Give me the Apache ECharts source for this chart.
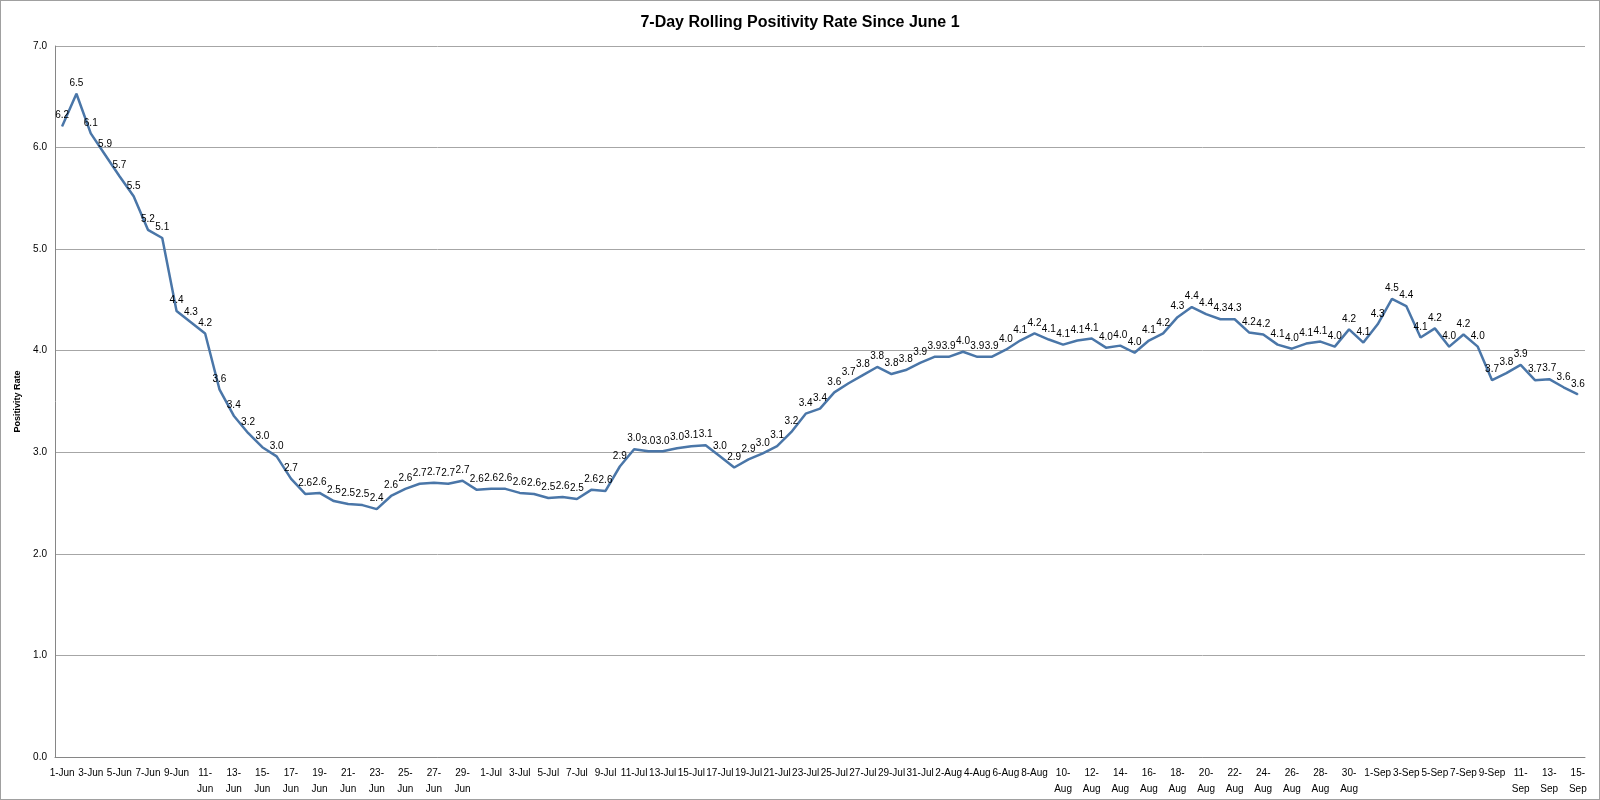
<!DOCTYPE html>
<html><head><meta charset="utf-8">
<script src="https://cdn.jsdelivr.net/npm/echarts@6/dist/echarts.min.js"></script>
<style>html,body{margin:0;padding:0;background:#fff}#c{width:1600px;height:800px;box-sizing:border-box;border:1px solid #a0a0a0}</style>
</head><body><div id="c"></div>
<script>
const months = ['Jun','Jul','Aug','Sep'];
const monthDays = [30,31,31,15];
const rates = [
6.21,6.53,6.14,5.93,5.72,5.52,5.19,5.11,4.39,4.28,
4.17,3.62,3.36,3.19,3.05,2.96,2.74,2.59,2.60,2.52,
2.49,2.48,2.44,2.57,2.64,2.69,2.70,2.69,2.72,2.63,
2.64,2.64,2.60,2.59,2.55,2.56,2.54,2.63,2.62,2.86,
3.03,3.01,3.01,3.04,3.06,3.07,2.96,2.85,2.93,2.99,
3.06,3.20,3.38,3.43,3.59,3.68,3.76,3.84,3.77,3.81,
3.88,3.94,3.94,3.99,3.94,3.94,4.01,4.10,4.17,4.11,
4.06,4.10,4.12,4.03,4.05,3.98,4.10,4.17,4.33,4.43,
4.36,4.31,4.31,4.18,4.16,4.06,4.02,4.07,4.09,4.04,
4.21,4.08,4.26,4.51,4.44,4.13,4.22,4.04,4.16,4.04,
3.71,3.78,3.86,3.71,3.72,3.64,3.57];
const dates = [];
months.forEach((m,i)=>{for(let d=1; d<=monthDays[i]; d++) dates.push(d+'-'+m);});

const chart = echarts.init(document.getElementById('c'));
chart.setOption({
  animation:false,
  title:{text:'7-Day Rolling Positivity Rate Since June 1',left:'center',top:9,
    textStyle:{fontFamily:'Liberation Sans',fontSize:16,fontWeight:'bold',color:'#000'}},
  grid:{left:54,right:14,top:45,bottom:42},
  xAxis:{type:'category',data:dates,boundaryGap:true,
    axisLine:{lineStyle:{color:'#868686'}},axisTick:{show:false},
    axisLabel:{interval:1,fontSize:10,color:'#000',fontFamily:'Liberation Sans',lineHeight:16,margin:8,
      formatter:v=>{const [d,m]=v.split('-'); return (+d>=10 && m!=='Jul')? d+'-\n'+m : v;}}},
  yAxis:{type:'value',min:0,max:7,interval:1,
    name:'Positivity Rate',nameLocation:'middle',nameGap:32,
    nameTextStyle:{fontSize:9,fontWeight:'bold',color:'#000',fontFamily:'Liberation Sans'},
    axisLine:{show:true,lineStyle:{color:'#868686'}},axisTick:{show:false},
    axisLabel:{fontSize:10,color:'#000',fontFamily:'Liberation Sans',formatter:v=>v.toFixed(1)},
    splitLine:{lineStyle:{color:'#a6a6a6'}}},
  series:[{type:'line',data:rates,showSymbol:true,symbol:'circle',symbolSize:1,
    itemStyle:{color:'#4a76a8'},
    lineStyle:{color:'#4a76a8',width:2.5},
    label:{show:true,position:'top',distance:5,fontSize:10,color:'#000',fontFamily:'Liberation Sans',
      formatter:p=>p.value.toFixed(1)},
    labelLayout:{hideOverlap:false}}]
});
</script></body></html>
